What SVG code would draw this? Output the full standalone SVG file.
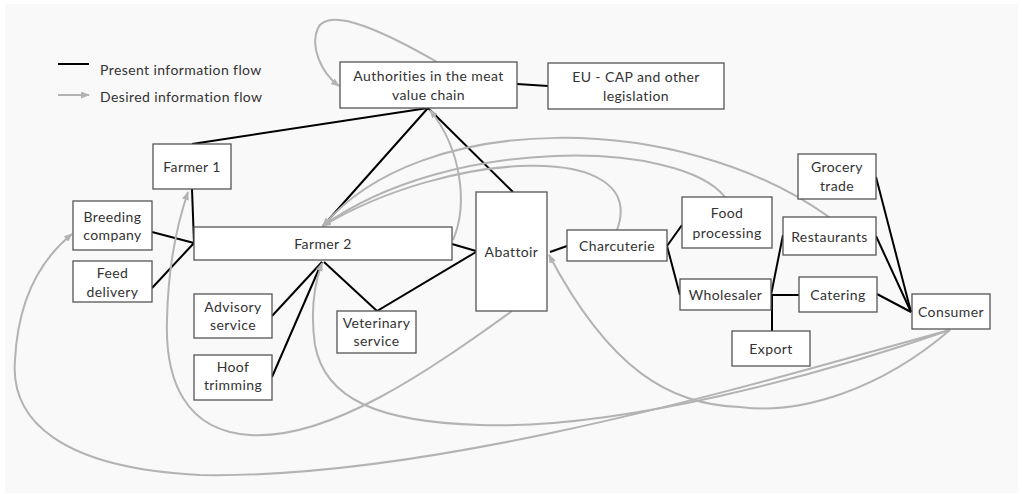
<svg xmlns="http://www.w3.org/2000/svg" width="1022" height="494" viewBox="0 0 1022 494">
  <defs>
    <marker id="arrow" markerUnits="userSpaceOnUse" markerWidth="9" markerHeight="7" refX="8" refY="3.5" orient="auto">
      <path d="M0,0 L9,3.5 L0,7 z" fill="#b3b3b3"/>
    </marker>
    <style>
      .box { fill: #ffffff; stroke: #555555; stroke-width: 1.3; }
      .lbl { font-family: Lato, "Open Sans", "Liberation Sans", sans-serif; font-size: 14px; letter-spacing: 0.4px; fill: #333333; text-anchor: middle; }
      .leg { font-family: Lato, "Open Sans", "Liberation Sans", sans-serif; font-size: 14px; letter-spacing: 0.4px; fill: #333333; }
      .now { fill: none; stroke: #000000; stroke-width: 2; }
      .want { fill: none; stroke: #b3b3b3; stroke-width: 2; marker-end: url(#arrow); }
    </style>
  </defs>

  <rect x="0" y="0" width="1022" height="494" fill="#ffffff"/>
  <rect x="5" y="4" width="1013" height="489" fill="#f9f9f9"/>

  <!-- legend -->
  <g id="legend">
    <line x1="58" y1="64" x2="89" y2="64" class="now"/>
    <text x="100" y="75" class="leg">Present information flow</text>
    <line x1="58" y1="95" x2="89" y2="95" class="want"/>
    <text x="100" y="102" class="leg">Desired information flow</text>
  </g>

  <!-- connectors -->
  <g id="connectors">
    <!-- present flows -->
    <line x1="192" y1="144" x2="428" y2="108" class="now"/>
    <line x1="428" y1="108" x2="323" y2="226" class="now"/>
    <line x1="428" y1="108" x2="513" y2="192" class="now"/>
    <line x1="517" y1="84" x2="548" y2="86" class="now"/>
    <line x1="192" y1="189" x2="194" y2="243" class="now"/>
    <line x1="152" y1="232" x2="194" y2="243" class="now"/>
    <line x1="152" y1="288" x2="194" y2="243" class="now"/>
    <line x1="272" y1="316" x2="322" y2="262" class="now"/>
    <line x1="272" y1="377" x2="322" y2="262" class="now"/>
    <polyline points="324,262 377,311 476,252" class="now"/>
    <line x1="452" y1="244" x2="476" y2="251" class="now"/>
    <line x1="567" y1="246" x2="550" y2="252" class="now"/>
    <line x1="667" y1="246" x2="682" y2="225" class="now"/>
    <line x1="667" y1="246" x2="680" y2="295" class="now"/>
    <line x1="771" y1="295" x2="783" y2="235" class="now"/>
    <line x1="771" y1="295" x2="799" y2="295" class="now"/>
    <line x1="772" y1="295" x2="772" y2="331" class="now"/>
    <line x1="876" y1="177" x2="911" y2="312" class="now"/>
    <line x1="876" y1="236" x2="911" y2="312" class="now"/>
    <line x1="877" y1="294" x2="911" y2="312" class="now"/>

    <!-- desired flows -->
    <path d="M437,62 C390,35 330,5 318,28 C310,45 320,72 339,86" class="want"/>
    <path d="M453,240 C468,205 462,150 430,110" class="want"/>
    <path d="M829,217 C680,110 420,110 323,226" class="want"/>
    <path d="M725,197 C680,140 450,135 323,226" class="want"/>
    <path d="M617,230 C650,140 450,150 323,226" class="want"/>
    <path d="M512,311 C430,370 330,440 250,435 C185,431 165,380 167,320 C168,270 175,230 188,192" class="want"/>
    <path d="M950,330 C800,370 450,480 200,475 C60,468 10,420 15,360 C18,300 40,260 72,234" class="want"/>
    <path d="M950,330 C880,390 800,415 740,407 C670,405 610,370 549,255" class="want"/>
    <path d="M950,330 C820,375 620,430 480,425 C380,422 325,400 315,345 C310,310 314,285 322,263" class="want"/>
  </g>

  <!-- nodes -->
  <g id="authorities">
    <rect x="340" y="62" width="177" height="46" class="box"/>
    <text x="428.5" y="81" class="lbl">Authorities in the meat</text>
    <text x="428.5" y="100" class="lbl">value chain</text>
  </g>
  <g id="eu-cap">
    <rect x="548" y="63" width="176" height="46" class="box"/>
    <text x="636" y="82" class="lbl">EU - CAP and other</text>
    <text x="636" y="101" class="lbl">legislation</text>
  </g>
  <g id="farmer-1">
    <rect x="153" y="144" width="78" height="45" class="box"/>
    <text x="192" y="172" class="lbl">Farmer 1</text>
  </g>
  <g id="breeding-company">
    <rect x="73" y="201" width="79" height="49" class="box"/>
    <text x="112.5" y="222" class="lbl">Breeding</text>
    <text x="112.5" y="240" class="lbl">company</text>
  </g>
  <g id="feed-delivery">
    <rect x="73" y="261" width="79" height="41" class="box"/>
    <text x="112.5" y="278" class="lbl">Feed</text>
    <text x="112.5" y="297" class="lbl">delivery</text>
  </g>
  <g id="farmer-2">
    <rect x="194" y="227" width="258" height="33" class="box"/>
    <text x="323" y="249" class="lbl">Farmer 2</text>
  </g>
  <g id="advisory-service">
    <rect x="194" y="294" width="78" height="44" class="box"/>
    <text x="233" y="312" class="lbl">Advisory</text>
    <text x="233" y="330" class="lbl">service</text>
  </g>
  <g id="hoof-trimming">
    <rect x="194" y="355" width="78" height="45" class="box"/>
    <text x="233" y="372" class="lbl">Hoof</text>
    <text x="233" y="390" class="lbl">trimming</text>
  </g>
  <g id="veterinary-service">
    <rect x="337" y="311" width="79" height="42" class="box"/>
    <text x="376.5" y="328" class="lbl">Veterinary</text>
    <text x="376.5" y="346" class="lbl">service</text>
  </g>
  <g id="abattoir">
    <rect x="476" y="192" width="71" height="119" class="box"/>
    <text x="511.5" y="257" class="lbl">Abattoir</text>
  </g>
  <g id="charcuterie">
    <rect x="567" y="230" width="100" height="31" class="box"/>
    <text x="617" y="251" class="lbl">Charcuterie</text>
  </g>
  <g id="food-processing">
    <rect x="682" y="197" width="90" height="51" class="box"/>
    <text x="727" y="218" class="lbl">Food</text>
    <text x="727" y="238" class="lbl">processing</text>
  </g>
  <g id="wholesaler">
    <rect x="680" y="279" width="91" height="31" class="box"/>
    <text x="725.5" y="300" class="lbl">Wholesaler</text>
  </g>
  <g id="export">
    <rect x="732" y="331" width="78" height="35" class="box"/>
    <text x="771" y="354" class="lbl">Export</text>
  </g>
  <g id="grocery-trade">
    <rect x="798" y="154" width="78" height="45" class="box"/>
    <text x="837" y="172" class="lbl">Grocery</text>
    <text x="837" y="191" class="lbl">trade</text>
  </g>
  <g id="restaurants">
    <rect x="783" y="217" width="93" height="38" class="box"/>
    <text x="829.5" y="242" class="lbl">Restaurants</text>
  </g>
  <g id="catering">
    <rect x="799" y="277" width="78" height="35" class="box"/>
    <text x="838" y="300" class="lbl">Catering</text>
  </g>
  <g id="consumer">
    <rect x="912" y="294" width="78" height="35" class="box"/>
    <text x="951" y="317" class="lbl">Consumer</text>
  </g>
</svg>
